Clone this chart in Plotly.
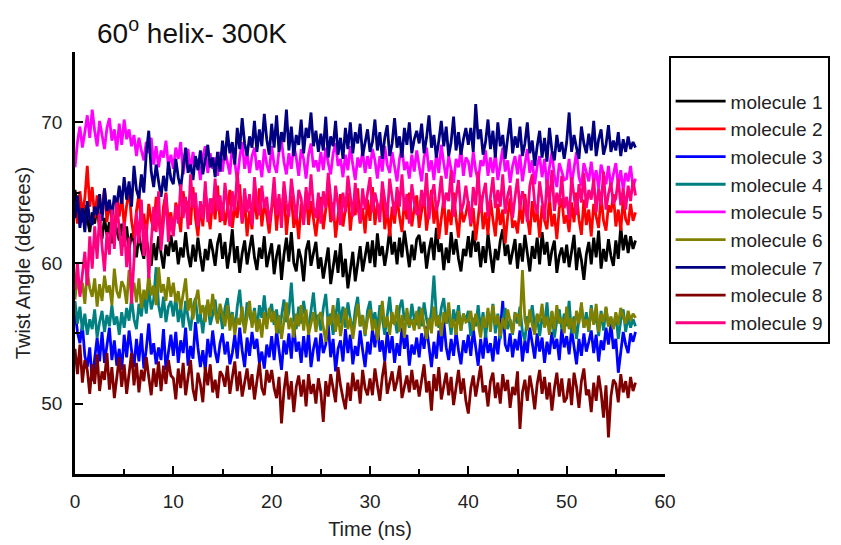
import plotly.graph_objects as go

# Sampling interval of the trajectories (ns)
TIME_STEP = 0.25

SERIES_NAMES = [f"molecule {i}" for i in range(1, 10)]
SERIES_COLORS = ["#000000", "#FF0000", "#0000FF", "#008080", "#FF00FF",
                 "#808000", "#000080", "#800000", "#FF0080"]

# Twist angle (degrees) per molecule, one row per 5 ns
molecule_1 = [
    65.2, 63.8, 64.6, 62.9, 64.1, 63.0, 62.2, 63.6, 62.8, 64.0, 62.5, 61.7, 63.2, 62.0, 62.9, 61.4, 63.1, 62.3, 61.6, 62.8,
    61.2, 62.6, 60.9, 62.1, 61.5, 60.4, 62.0, 61.0, 60.3, 61.8, 60.6, 59.8, 61.4, 60.2, 61.9, 60.7, 59.6, 61.3, 60.5, 62.0,
    60.8, 61.6, 59.9, 61.1, 60.4, 62.2, 60.6, 59.7, 61.3, 60.1, 61.8, 60.5, 59.4, 61.0, 60.2, 61.7, 60.9, 59.8, 61.4, 62.1,
    60.3, 61.5, 59.6, 60.8, 62.4, 60.0, 61.2, 59.3, 60.7, 61.6, 59.9, 61.0, 62.0, 60.4, 59.5, 61.1, 60.3, 61.9, 59.7, 60.6,
    61.4, 59.2, 60.5, 61.3, 58.8, 60.6, 61.8, 60.1, 62.2, 60.0, 59.4, 61.0, 60.3, 58.7, 60.9, 61.6, 59.8, 60.7, 61.5, 59.6,
    60.4, 58.9, 60.2, 61.1, 58.5, 59.8, 60.9, 59.3, 61.4, 59.0, 60.3, 58.2, 59.6, 60.8, 58.7, 59.9, 61.2, 59.4, 60.6, 61.5,
    60.0, 61.6, 59.7, 62.1, 60.5, 61.2, 59.8, 60.9, 62.4, 60.6, 61.5, 59.9, 61.8, 60.4, 62.3, 61.0, 59.7, 61.3, 60.2, 61.7,
    62.0, 60.7, 61.5, 59.6, 60.9, 61.8, 60.2, 62.5, 60.8, 61.4, 59.5, 61.1, 60.0, 62.2, 60.6, 61.7, 60.3, 59.4, 61.0, 60.5,
    61.9, 60.4, 62.3, 60.8, 61.5, 59.7, 61.2, 60.0, 62.1, 60.6, 59.3, 61.0, 60.2, 61.6, 62.4, 60.5, 61.3, 59.9, 60.8, 61.7,
    59.6, 61.4, 60.1, 62.0, 60.7, 59.4, 61.2, 60.3, 61.8, 59.9, 62.2, 60.6, 61.5, 59.8, 60.9, 61.6, 59.3, 60.5, 61.1, 60.0,
    61.3, 59.7, 60.8, 62.0, 59.5, 61.1, 60.2, 58.8, 60.6, 61.5, 59.9, 61.8, 60.4, 62.3, 59.6, 61.0, 60.1, 61.7, 60.5, 59.8,
    61.6, 60.3, 62.6, 60.9, 62.0, 60.7, 61.9, 61.0, 61.6,
]
molecule_2 = [
    64.2, 62.8, 65.1, 63.5, 64.6, 66.9, 64.0, 65.4, 63.2, 64.8, 62.5, 63.9, 65.3, 62.9, 64.4, 63.0, 62.1, 64.6, 63.3, 64.9,
    62.6, 64.1, 65.2, 63.0, 61.8, 63.7, 64.9, 62.4, 63.5, 61.9, 64.2, 63.1, 62.3, 64.7, 63.4, 61.7, 64.0, 65.0, 62.8, 63.6,
    62.0, 64.3, 63.5, 62.2, 65.1, 63.6, 64.4, 62.7, 65.4, 63.2, 61.9, 64.1, 62.6, 65.0, 63.8, 62.4, 64.6, 63.1, 65.5, 62.9,
    64.3, 62.7, 63.9, 65.2, 62.5, 64.0, 63.2, 65.6, 62.8, 64.5, 61.9, 63.7, 62.4, 64.9, 63.1, 65.3, 62.6, 64.2, 63.4, 62.1,
    63.8, 65.0, 62.3, 64.6, 63.2, 65.4, 62.0, 63.9, 64.8, 62.5, 63.6, 61.7, 64.2, 63.0, 65.1, 62.7, 64.4, 63.3, 61.9, 63.5,
    64.7, 62.4, 63.8, 65.2, 62.9, 64.3, 61.8, 63.5, 64.9, 62.6, 63.7, 65.0, 62.3, 64.1, 63.4, 65.3, 62.8, 63.9, 62.1, 64.5,
    63.0, 65.4, 62.7, 64.2, 63.6, 65.1, 62.4, 63.8, 61.9, 64.0, 62.8, 64.7, 63.3, 62.2, 64.5, 63.1, 65.0, 62.6, 63.9, 64.8,
    62.5, 63.7, 64.9, 62.3, 63.6, 65.2, 62.8, 64.3, 61.7, 63.4, 64.6, 62.0, 63.8, 62.7, 65.0, 63.2, 61.8, 64.1, 62.9, 63.5,
    64.4, 62.6, 63.9, 61.6, 63.2, 64.8, 62.4, 63.6, 62.0, 64.5, 63.1, 61.9, 64.2, 62.7, 63.8, 61.4, 63.3, 64.6, 62.5, 63.0,
    62.1, 64.0, 62.8, 64.9, 63.3, 62.0, 64.4, 62.9, 63.7, 61.8, 64.1, 63.0, 62.4, 64.7, 62.6, 63.5, 61.7, 63.9, 64.6, 62.8,
    63.4, 62.2, 64.3, 62.9, 65.0, 63.1, 62.0, 64.5, 62.7, 63.8, 61.9, 64.2, 63.3, 62.5, 64.8, 63.0, 62.3, 64.1, 63.6, 64.9,
    62.6, 63.8, 62.3, 64.5, 63.1, 62.7, 64.2, 63.0, 63.6,
]
molecule_3 = [
    56.6, 55.1, 54.3, 55.6, 53.4, 52.6, 54.0, 51.6, 53.2, 54.7, 53.0, 55.1, 52.9, 54.2, 55.4, 53.1, 54.5, 52.7, 53.9, 52.4,
    54.9, 53.3, 55.2, 53.8, 52.6, 54.6, 53.0, 55.0, 52.5, 53.9, 55.7, 53.5, 54.3, 52.8, 54.0, 53.1, 55.3, 52.4, 53.7, 54.9,
    53.4, 55.1, 52.9, 54.5, 53.6, 55.4, 52.7, 54.1, 53.2, 55.8, 54.0, 52.6, 53.8, 52.4, 54.6, 53.3, 55.2, 53.7, 52.9, 54.3,
    55.0, 53.5, 54.4, 52.8, 53.6, 54.9, 53.2, 55.4, 53.8, 52.6, 54.7, 53.4, 55.1, 53.9, 54.6, 52.9, 53.7, 52.5, 54.2, 53.3,
    54.8, 53.1, 55.2, 53.8, 52.4, 54.5, 53.5, 55.0, 53.2, 55.6, 53.7, 54.4, 52.9, 54.8, 53.3, 55.1, 52.6, 53.9, 54.7, 53.0,
    55.0, 53.6, 54.2, 55.7, 53.3, 54.6, 52.3, 53.9, 54.5, 53.0, 55.3, 53.6, 54.9, 52.8, 54.1, 53.4, 55.2, 53.8, 52.6, 54.4,
    53.5, 55.3, 54.0, 55.6, 53.7, 54.5, 53.0, 55.1, 53.6, 54.8, 52.9, 54.3, 53.4, 55.4, 53.9, 54.9, 52.7, 54.2, 53.5, 54.7,
    53.3, 55.0, 53.9, 55.5, 54.1, 52.6, 54.4, 53.2, 55.2, 53.7, 55.9, 54.0, 53.1, 54.6, 53.4, 55.1, 53.8, 52.8, 54.5, 53.6,
    54.9, 53.4, 55.3, 54.0, 52.7, 54.6, 53.2, 55.0, 53.6, 54.3, 53.0, 54.8, 53.5, 55.2, 57.3, 54.2, 53.7, 55.0, 53.3, 54.6,
    53.8, 55.2, 53.0, 54.5, 53.6, 55.4, 54.1, 53.2, 55.0, 53.7, 54.7, 52.9, 54.4, 53.5, 55.1, 53.9, 54.6, 53.1, 55.3, 54.0,
    54.8, 53.5, 55.3, 54.1, 52.8, 54.6, 53.4, 55.0, 53.7, 54.4, 55.2, 53.6, 54.9, 53.0, 54.5, 53.8, 55.4, 54.2, 55.7, 53.9,
    54.6, 52.2, 53.8, 55.1, 54.2, 53.6, 55.0, 54.4, 55.1,
]
molecule_4 = [
    57.3, 55.7, 56.9, 55.2, 56.4, 54.9, 56.0, 55.3, 56.7, 54.7, 55.8, 56.6, 55.1, 56.3, 55.5, 57.0, 55.6, 56.2, 54.9, 56.5,
    55.4, 56.8, 55.9, 57.5, 56.0, 55.3, 57.1, 56.2, 57.8, 56.4, 58.3, 56.7, 57.4, 59.7, 57.0, 56.1, 57.6, 55.8, 56.9, 57.3,
    56.2, 57.6, 55.8, 56.9, 55.4, 57.3, 56.1, 55.2, 56.8, 57.5, 55.7, 56.4, 55.0, 56.7, 57.1, 55.6, 56.3, 57.4, 55.9, 56.6,
    55.3, 56.8, 57.5, 55.9, 56.5, 55.1, 56.9, 58.1, 56.0, 55.4, 57.2, 56.3, 55.7, 56.8, 55.2, 57.0, 56.1, 57.7, 55.8, 56.4,
    57.1, 55.6, 56.7, 55.0, 56.2, 57.4, 55.8, 56.5, 58.6, 56.1, 55.3, 56.9, 55.7, 57.3, 56.0, 55.4, 56.6, 57.9, 55.9, 56.3,
    55.2, 56.8, 57.8, 55.6, 56.4, 54.9, 56.1, 57.5, 55.7, 56.9, 55.4, 57.2, 56.0, 55.1, 56.7, 57.6, 55.5, 56.3, 54.8, 56.6,
    57.3, 55.8, 56.5, 55.2, 57.0, 56.1, 54.9, 56.4, 57.6, 55.7, 56.2, 55.0, 56.8, 57.4, 55.9, 56.3, 55.4, 57.1, 56.0, 55.6,
    56.9, 55.5, 57.2, 56.0, 55.3, 56.6, 59.1, 56.2, 55.4, 56.8, 57.5, 55.7, 56.3, 54.9, 56.7, 55.8, 57.0, 55.2, 56.4, 55.9,
    56.6, 54.8, 56.1, 55.5, 57.0, 55.2, 56.5, 54.7, 56.2, 55.6, 57.1, 55.0, 56.4, 54.6, 55.9, 56.8, 55.3, 56.0, 54.9, 56.5,
    55.7, 56.9, 55.1, 54.5, 56.2, 55.8, 57.0, 55.4, 56.3, 54.8, 56.1, 55.6, 57.2, 55.0, 56.5, 54.7, 55.9, 56.7, 55.3, 56.4,
    55.5, 57.3, 55.0, 56.2, 54.6, 56.0, 56.9, 55.4, 56.5, 55.1, 57.0, 55.7, 56.3, 54.8, 56.6, 55.2, 56.8, 55.5, 56.1, 55.3,
    56.4, 54.6, 55.9, 56.7, 55.1, 56.2, 55.4, 56.0, 55.5,
]
molecule_5 = [
    66.8, 68.6, 69.7, 68.2, 69.3, 70.5, 68.9, 70.9, 69.4, 68.3, 70.1, 69.0, 68.1, 69.6, 70.3, 68.7, 69.5, 68.0, 69.9, 68.4,
    70.2, 68.8, 69.5, 68.3, 69.1, 67.6, 68.9, 68.0, 67.3, 68.6, 67.8, 68.9, 67.0, 68.3, 66.8, 68.0, 67.5, 68.7, 66.9, 67.7,
    66.7, 68.2, 67.4, 68.6, 66.3, 67.6, 68.1, 66.5, 67.9, 66.9, 67.4, 65.9, 67.6, 68.3, 66.4, 67.8, 66.7, 67.5, 66.2, 67.9,
    66.5, 68.0, 67.2, 66.3, 68.4, 67.1, 65.9, 67.5, 68.6, 66.7, 67.8, 66.4, 67.6, 68.2, 66.6, 67.3, 66.1, 68.1, 67.0, 66.4,
    68.3, 67.0, 66.4, 68.0, 68.7, 67.2, 66.3, 67.8, 66.7, 68.4, 67.5, 66.2, 68.1, 67.4, 66.0, 67.7, 68.5, 66.8, 67.3, 66.5,
    67.9, 66.6, 68.2, 67.1, 66.3, 67.8, 68.5, 66.9, 67.4, 66.1, 67.7, 66.6, 68.3, 67.0, 65.9, 67.5, 66.8, 68.0, 66.4, 67.6,
    66.7, 68.1, 67.3, 66.0, 67.6, 66.5, 68.3, 67.0, 66.4, 67.9, 66.8, 65.8, 67.4, 68.2, 66.6, 67.2, 66.0, 67.7, 66.5, 68.0,
    66.9, 65.8, 67.5, 68.2, 66.5, 67.3, 65.9, 67.8, 66.4, 68.4, 67.1, 66.0, 67.6, 66.7, 65.7, 67.4, 66.8, 68.1, 66.2, 67.5,
    67.2, 66.1, 67.9, 66.6, 65.8, 67.3, 66.9, 68.0, 66.2, 67.5, 66.4, 67.8, 65.9, 67.0, 68.2, 66.5, 67.3, 65.7, 66.9, 67.6,
    66.3, 67.7, 65.8, 67.0, 68.1, 66.4, 67.3, 65.6, 66.9, 67.6, 66.1, 67.4, 65.5, 66.8, 67.9, 66.2, 65.4, 67.1, 66.5, 65.9,
    66.0, 67.4, 65.6, 66.8, 67.9, 66.1, 65.5, 67.1, 66.4, 65.8, 67.2, 65.7, 66.6, 65.3, 67.0, 66.2, 65.6, 66.9, 65.4, 66.3,
    67.1, 65.5, 66.6, 65.2, 66.4, 65.8, 66.9, 65.4, 66.0,
]
molecule_6 = [
    57.4, 59.0, 57.8, 58.6, 57.1, 59.4, 58.2, 57.6, 58.9, 56.9, 58.5, 57.3, 59.1, 57.9, 58.4, 57.0, 59.6, 58.0, 57.5, 58.7,
    58.3, 57.1, 59.5, 57.8, 58.6, 57.2, 58.9, 56.8, 58.1, 57.4, 59.2, 57.7, 58.4, 57.0, 59.7, 57.9, 58.5, 57.3, 59.0, 57.6,
    58.6, 57.2, 58.0, 56.7, 57.8, 58.9, 56.6, 57.5, 56.0, 57.3, 58.1, 56.4, 57.0, 55.8, 57.4, 56.2, 57.8, 56.5, 55.7, 57.1,
    56.3, 55.5, 57.0, 55.2, 56.4, 54.9, 56.1, 55.6, 56.9, 55.0, 56.2, 57.3, 55.4, 56.6, 55.1, 56.0, 54.7, 56.5, 55.3, 56.8,
    55.8, 56.6, 55.0, 56.3, 54.6, 55.9, 57.2, 55.3, 56.1, 54.7, 56.4, 55.5, 57.0, 55.2, 56.7, 54.9, 55.8, 56.5, 55.1, 56.2,
    56.5, 55.4, 54.4, 56.2, 55.6, 57.0, 55.1, 56.4, 54.8, 55.9, 56.8, 55.3, 56.1, 54.6, 55.7, 57.1, 55.5, 56.3, 54.9, 56.0,
    56.7, 55.2, 56.0, 54.5, 55.8, 57.3, 55.4, 56.2, 54.9, 56.5, 55.6, 57.0, 55.1, 56.3, 54.7, 56.8, 55.5, 56.0, 55.2, 56.6,
    55.3, 56.8, 55.6, 54.6, 56.1, 55.0, 56.9, 55.5, 56.3, 54.8, 56.5, 55.7, 57.2, 55.4, 56.0, 54.9, 56.6, 55.2, 56.4, 55.8,
    55.9, 56.6, 55.2, 56.4, 55.7, 54.7, 56.2, 55.4, 56.8, 55.1, 57.0, 55.6, 56.3, 54.8, 56.1, 55.3, 56.7, 55.9, 55.0, 56.4,
    56.3, 55.5, 59.5, 56.0, 55.2, 56.7, 55.6, 54.9, 56.4, 55.8, 57.1, 55.4, 56.2, 54.9, 56.6, 55.3, 57.0, 55.7, 56.1, 55.0,
    56.9, 55.3, 56.1, 55.0, 56.6, 55.7, 57.2, 55.4, 56.0, 55.2, 56.8, 55.6, 57.1, 55.1, 56.4, 55.8, 56.9, 55.5, 56.2, 55.3,
    56.5, 55.6, 56.8, 56.2, 55.7, 56.6, 55.9, 56.4, 56.1,
]
molecule_7 = [
    63.2, 64.8, 62.5, 63.9, 62.2, 64.4, 63.1, 62.7, 64.0, 63.4, 64.9, 63.0, 65.3, 63.7, 64.5, 63.2, 64.8, 64.1, 65.5, 64.2,
    66.1, 64.5, 65.8, 64.0, 66.9, 65.2, 64.6, 66.3, 65.0, 67.8, 69.4, 66.5, 65.4, 67.0, 65.8, 64.7, 66.2, 65.1, 67.2, 66.0,
    65.6, 67.4, 66.1, 65.3, 66.8, 68.2, 66.4, 67.0, 65.9, 67.6, 66.6, 68.0, 66.3, 67.3, 68.4, 66.8, 67.5, 66.1, 67.9, 66.5,
    68.7, 67.3, 69.4, 67.8, 68.6, 67.0, 69.6, 68.1, 70.3, 68.5, 67.6, 69.0, 68.2, 70.1, 67.9, 69.5, 68.3, 70.6, 68.8, 67.7,
    69.9, 68.2, 70.5, 67.9, 69.3, 68.6, 70.9, 68.0, 69.7, 67.6, 69.1, 68.4, 70.2, 67.8, 69.6, 68.9, 70.7, 68.3, 69.4, 67.9,
    69.2, 68.0, 70.4, 67.5, 69.0, 68.3, 70.1, 67.7, 68.9, 67.4, 69.6, 68.1, 70.0, 67.8, 69.3, 68.5, 69.9, 67.6, 68.7, 69.5,
    67.9, 68.6, 70.2, 68.0, 69.3, 67.4, 68.9, 69.8, 67.6, 68.5, 70.3, 68.2, 69.0, 67.5, 69.6, 68.4, 70.0, 67.8, 68.8, 69.4,
    68.5, 69.9, 67.8, 68.9, 70.5, 68.2, 69.1, 67.5, 68.7, 70.1, 68.3, 69.7, 67.6, 68.6, 70.4, 68.0, 69.3, 67.7, 68.8, 69.6,
    68.4, 69.6, 67.9, 71.3, 68.8, 69.5, 67.7, 68.6, 70.2, 68.1, 69.4, 67.5, 70.0, 68.3, 69.1, 67.4, 68.9, 70.3, 67.8, 69.0,
    68.2, 69.7, 67.6, 68.5, 70.0, 67.8, 68.7, 66.9, 68.3, 69.4, 67.5, 68.9, 67.2, 69.6, 68.0, 67.3, 69.1, 67.9, 68.6, 67.4,
    68.6, 70.7, 67.9, 69.1, 68.2, 67.4, 69.7, 68.5, 67.8, 69.2, 68.0, 70.1, 67.6, 68.8, 69.5, 67.7, 68.4, 69.8, 67.9, 68.7,
    68.0, 69.3, 67.6, 68.8, 67.9, 69.0, 68.1, 68.6, 68.2,
]
molecule_8 = [
    53.9, 52.1, 54.2, 51.5, 53.1, 52.4, 50.7, 52.8, 51.4, 53.5, 50.9, 52.3, 51.7, 53.6, 51.0, 52.6, 50.4, 52.0, 53.3, 51.2,
    52.8, 50.7, 52.2, 53.6, 51.3, 52.9, 50.8, 52.4, 51.6, 53.3, 51.9, 50.6, 52.5, 51.2, 53.0, 50.9, 52.7, 51.4, 53.1, 52.0,
    51.8, 50.3, 52.5, 51.1, 52.9, 50.6, 51.9, 53.1, 51.0, 50.2, 52.2, 51.4, 50.1, 52.6, 51.3, 52.8, 50.8, 51.7, 50.4, 52.3,
    52.0, 51.2, 52.7, 50.7, 51.9, 53.0, 50.9, 52.3, 50.5, 51.6, 52.5, 51.0, 52.1, 50.3, 51.8, 52.9, 51.1, 50.6, 52.4, 51.5,
    52.4, 51.1, 50.4, 51.9, 48.6, 50.9, 52.3, 50.3, 51.6, 49.4, 51.2, 52.0, 50.5, 51.7, 49.8, 52.1, 50.7, 51.4, 50.0, 51.8,
    50.8, 48.7, 51.6, 50.5, 52.1, 51.0, 50.1, 52.6, 51.3, 50.4, 49.6, 51.5, 50.2, 52.2, 50.9, 51.7, 50.0, 52.4, 51.1, 50.6,
    51.8, 50.6, 52.5, 51.3, 50.2, 51.9, 53.0, 50.7, 51.5, 52.3, 50.9, 51.6, 52.7, 50.4, 51.2, 52.0, 50.8, 52.4, 51.0, 51.7,
    50.5, 51.7, 52.8, 50.8, 51.6, 49.5, 52.1, 50.9, 52.6, 50.3, 51.4, 52.2, 50.6, 51.9, 49.9, 51.3, 52.4, 50.7, 51.8, 50.2,
    49.3, 51.1, 52.0, 50.5, 51.8, 52.7, 50.8, 51.3, 49.8, 51.6, 52.2, 50.4, 51.5, 50.0, 52.1, 50.9, 51.7, 49.7, 51.2, 50.6,
    52.3, 48.2, 50.8, 51.7, 50.2, 52.0, 51.0, 49.6, 51.4, 52.4, 50.7, 51.9, 50.3, 51.5, 49.5, 51.1, 52.2, 50.5, 51.8, 50.1,
    50.4, 51.8, 49.9, 52.2, 51.2, 49.7, 51.6, 52.5, 50.6, 51.0, 49.4, 51.5, 50.2, 52.0, 50.8, 49.0, 51.3, 47.6, 50.5, 51.7,
    51.4, 50.1, 52.1, 50.8, 51.6, 50.4, 51.9, 50.9, 51.5,
]
molecule_9 = [
    58.1, 60.0, 57.6, 59.3, 60.8, 58.4, 61.9, 59.6, 62.6, 60.3, 63.5, 61.2, 59.4, 62.2, 60.6, 63.8, 61.0, 64.3, 62.1, 60.5,
    62.9, 59.7, 61.8, 57.1, 60.2, 63.6, 61.4, 64.5, 60.5, 62.8, 58.9, 61.6, 64.0, 62.2, 65.1, 60.9, 62.7, 64.9, 61.5, 63.3,
    61.9, 64.1, 62.8, 65.6, 63.2, 64.7, 62.4, 66.3, 63.9, 65.0, 62.6, 64.4, 63.1, 65.8, 62.9, 64.6, 63.5, 66.0, 63.7, 64.8,
    63.0, 65.7, 64.1, 62.6, 65.1, 63.7, 66.5, 64.3, 62.9, 65.3, 63.6, 64.9, 62.7, 66.1, 64.2, 63.4, 65.5, 63.9, 64.7, 62.8,
    64.0, 66.1, 63.4, 64.9, 62.5, 65.8, 64.2, 63.3, 66.0, 64.5, 63.1, 65.2, 64.6, 62.7, 65.4, 63.8, 66.3, 64.0, 63.2, 65.0,
    62.8, 65.1, 63.9, 66.4, 64.4, 63.0, 65.5, 64.1, 62.7, 65.0, 63.6, 66.2, 64.5, 63.3, 65.7, 64.0, 62.9, 65.3, 63.8, 64.8,
    66.1, 63.6, 65.0, 64.2, 62.9, 65.8, 64.6, 63.2, 66.0, 64.7, 63.4, 65.4, 64.0, 66.3, 63.7, 64.9, 62.8, 65.6, 64.3, 63.5,
    63.5, 65.2, 64.0, 66.4, 63.1, 64.8, 65.6, 63.7, 64.5, 66.2, 63.9, 65.0, 64.4, 66.6, 63.3, 64.7, 65.9, 63.6, 64.2, 65.5,
    64.3, 62.8, 65.4, 64.1, 66.5, 63.6, 64.9, 65.7, 63.3, 64.6, 66.1, 63.9, 65.2, 64.0, 66.3, 63.5, 64.8, 65.5, 63.2, 64.7,
    66.0, 63.8, 65.1, 64.4, 62.9, 65.5, 66.3, 64.2, 63.5, 65.8, 64.6, 63.1, 65.9, 64.3, 66.6, 63.7, 65.0, 64.1, 66.2, 63.9,
    64.7, 63.1, 66.1, 64.9, 63.4, 65.6, 64.3, 66.4, 63.9, 65.2, 64.5, 66.0, 63.6, 65.3, 64.1, 66.5, 63.8, 64.9, 65.7, 64.2,
    64.6, 66.0, 64.1, 65.3, 63.8, 65.5, 64.4, 65.9, 64.8,
]

SERIES_VALUES = [molecule_1, molecule_2, molecule_3, molecule_4, molecule_5,
                 molecule_6, molecule_7, molecule_8, molecule_9]

X_TICKS = [0, 10, 20, 30, 40, 50, 60]
Y_TICKS = [50, 60, 70]

FONT = "Liberation Sans, Arial, sans-serif"

fig = go.Figure()
for name, color, values in zip(SERIES_NAMES, SERIES_COLORS, SERIES_VALUES):
    times = [i * TIME_STEP for i in range(len(values))]
    fig.add_trace(go.Scatter(
        x=times, y=values, name=name, mode="lines",
        line=dict(color=color, width=2.8),
    ))

axis_common = dict(
    showline=True, linecolor="black", linewidth=2.6, mirror=False,
    showgrid=False, zeroline=False,
    ticks="inside", ticklen=8, tickwidth=2.4, tickcolor="black",
    tickfont=dict(family=FONT, size=19, color="#222"),
    minor=dict(ticks="inside", ticklen=5, tickwidth=2, tickcolor="black", dtick=5),
)

fig.update_xaxes(
    range=[0, 60], tickvals=X_TICKS, ticklabelstandoff=8,
    title=dict(text="Time (ns)", font=dict(family=FONT, size=20, color="#222"), standoff=12),
    **axis_common,
)
fig.update_yaxes(
    range=[45, 75], tickvals=Y_TICKS, ticklabelstandoff=6,
    title=dict(text="Twist Angle (degrees)", font=dict(family=FONT, size=20, color="#222"), standoff=6),
    **axis_common,
)

fig.update_layout(
    width=841, height=545,
    margin=dict(l=75, r=176, t=52, b=71, autoexpand=False),
    paper_bgcolor="white", plot_bgcolor="white",
    title=dict(
        text="60<sup>o</sup> helix- 300K",
        font=dict(family=FONT, size=28, color="#111"),
        x=97 / 841, xanchor="left", xref="container",
        y=1 - 33 / 545, yanchor="middle", yref="container",
    ),
    legend=dict(
        x=1.0068, xanchor="left", y=0.9905, yanchor="top",
        bordercolor="black", borderwidth=1.6, bgcolor="white",
        font=dict(family=FONT, size=19, color="#222"),
        title=dict(text="&nbsp;", font=dict(size=19)),
        itemwidth=50,
    ),
    showlegend=True,
)

fig.write_html("out.html")
